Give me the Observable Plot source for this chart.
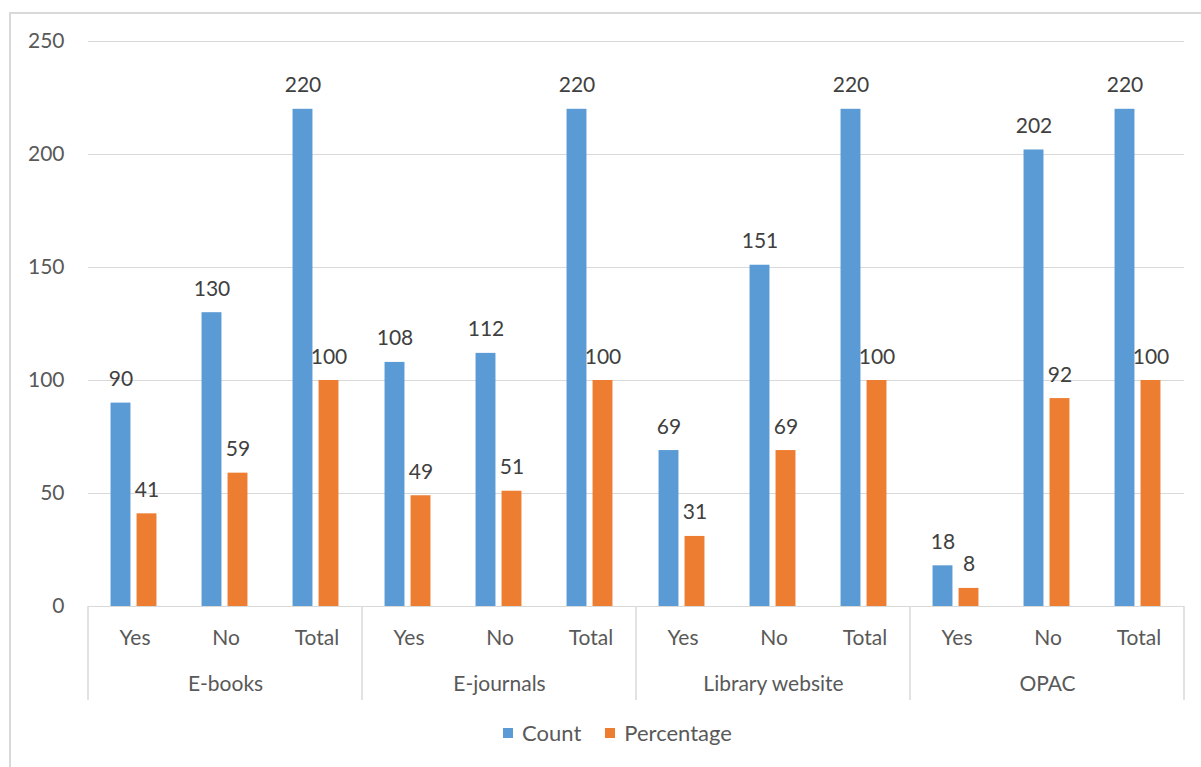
<!DOCTYPE html>
<html>
<head>
<meta charset="utf-8">
<script src="https://cdn.jsdelivr.net/npm/d3@7"></script>
<script src="https://cdn.jsdelivr.net/npm/@observablehq/plot@0.6"></script>
<style>
  html, body { margin: 0; padding: 0; background: #fff; }
  body { width: 1201px; height: 767px; position: relative; overflow: hidden; font-family: Lato, "Liberation Sans", sans-serif; }
  #frame { position: absolute; left: 9px; top: 12px; width: 1200px; height: 770px; border-left: 2px solid #d9d9d9; border-top: 2px solid #d9d9d9; box-sizing: border-box; pointer-events: none; }
  #chart { position: absolute; left: 0; top: 0; }
  #legend { position: absolute; left: 0; top: 716px; width: 1201px; padding-left: 58px; box-sizing: border-box; }
  #legend [class$="-swatch"] { margin-right: 24px !important; }
  #legend [class$="-swatch"] svg { margin-right: 9px !important; }
</style>
</head>
<body>
<div id="chart"></div>
<div id="legend"></div>
<div id="frame"></div>
<script>
const groups = ["E-books", "E-journals", "Library website", "OPAC"];
const subs = ["Yes", "No", "Total"];
const series = ["Count", "Percentage"];
const colors = ["#5B9BD5", "#ED7D31"];
const countValues = [90, 130, 220, 108, 112, 220, 69, 151, 220, 18, 202, 220];
const percentValues = [41, 59, 100, 49, 51, 100, 31, 69, 100, 8, 92, 100];
const yTicks = [0, 50, 100, 150, 200, 250];

const rows = [];
groups.forEach((g, gi) => subs.forEach((s, si) => {
  const i = gi * subs.length + si;
  rows.push({group: g, sub: s, series: "Count", value: countValues[i]});
  rows.push({group: g, sub: s, series: "Percentage", value: percentValues[i]});
}));
const countRows = rows.filter(d => d.series === "Count");
const pctRows = rows.filter(d => d.series === "Percentage");

const W = 1201, H = 705;
const barW = 20.5, offset = 13;
const mL = 86, mR = 16;
const band = (W - mL - mR) / groups.length / subs.length;
const inset = (band - barW) / 2;
const font = "Lato, 'Liberation Sans', sans-serif";

const plot = Plot.plot({
  width: W,
  height: H,
  marginLeft: mL,
  marginRight: mR,
  marginTop: 41,
  marginBottom: 99,
  style: {fontFamily: font, fontSize: "21px", color: "#595959", background: "transparent", overflow: "visible"},
  fx: {domain: groups, padding: 0, axis: null, label: null},
  x: {domain: subs, padding: 0, axis: null, label: null},
  y: {domain: [0, 250], axis: null, label: null},
  color: {domain: series, range: colors},
  marks: [
    Plot.ruleY(yTicks, {stroke: "#d9d9d9", strokeWidth: 1}),
    Plot.barY(countRows, {fx: "group", x: "sub", y: "value", fill: colors[0], dx: -offset - 1, insetLeft: inset, insetRight: inset}),
    Plot.barY(pctRows, {fx: "group", x: "sub", y: "value", fill: colors[1], dx: offset - 1, insetLeft: inset, insetRight: inset}),
    Plot.text(countRows, {fx: "group", x: "sub", y: "value", text: "value", dx: -offset - 1, dy: -17, lineAnchor: "bottom", fill: "#404040", fontSize: 21}),
    Plot.text(pctRows, {fx: "group", x: "sub", y: "value", text: "value", dx: offset - 1, dy: -17, lineAnchor: "bottom", fill: "#404040", fontSize: 21}),
    Plot.axisY(yTicks, {tickSize: 0, tickPadding: 24, fontSize: 21, fill: "#595959", label: null}),
    Plot.axisX({tickSize: 0, tickPadding: 24, fontSize: 21, fill: "#595959", label: null}),
    Plot.axisFx({anchor: "bottom", tickSize: 0, tickPadding: 70, fontSize: 21, fill: "#595959", label: null})
  ]
});

// category dividers below the axis (Excel multi-level category style)
const fx = plot.scale("fx");
const y = plot.scale("y");
const y0 = y.apply(0);
const edges = groups.map(g => fx.apply(g)).concat([fx.apply(groups[groups.length - 1]) + fx.bandwidth]);
d3.select(plot).append("g")
  .attr("stroke", "#d9d9d9")
  .attr("stroke-width", 1.5)
  .selectAll("line")
  .data(edges)
  .join("line")
  .attr("x1", d => d).attr("x2", d => d)
  .attr("y1", y0).attr("y2", y0 + 94);

document.getElementById("chart").appendChild(plot);

const legend = Plot.legend({
  color: {domain: series, range: colors},
  legend: "swatches",
  swatchSize: 10,
  style: {fontFamily: font, fontSize: "22px", color: "#595959", justifyContent: "center", margin: 0}
});
document.getElementById("legend").appendChild(legend);
</script>
</body>
</html>
